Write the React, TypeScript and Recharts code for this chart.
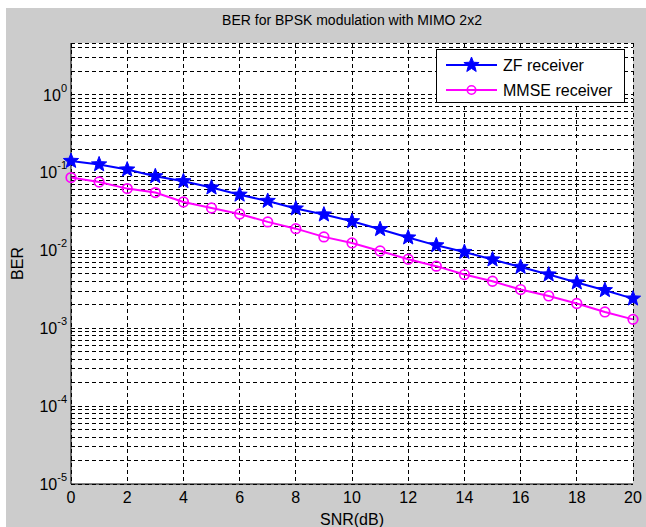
import React from 'react';
import { LineChart, Line, XAxis, YAxis, CartesianGrid } from 'recharts';

const TITLE = 'BER for BPSK modulation with MIMO 2x2';
const X_LABEL = 'SNR(dB)';
const Y_LABEL = 'BER';
const SERIES_NAMES = ['ZF receiver', 'MMSE receiver'];

const SNR = [0, 1, 2, 3, 4, 5, 6, 7, 8, 9, 10, 11, 12, 13, 14, 15, 16, 17, 18, 19, 20];
const ZF = [0.1405, 0.127, 0.109, 0.0893, 0.0771, 0.064, 0.0518, 0.0431, 0.0344, 0.0288, 0.0236, 0.0187, 0.0146, 0.0116, 0.00953, 0.00762, 0.00612, 0.00489, 0.00386, 0.00308, 0.0024];
const MMSE = [0.086, 0.0755, 0.0621, 0.0552, 0.0418, 0.035, 0.0293, 0.0232, 0.019, 0.0149, 0.01245, 0.00982, 0.00769, 0.00627, 0.00489, 0.00401, 0.00314, 0.0026, 0.00208, 0.00162, 0.0013];

const X_TICKS = [0, 2, 4, 6, 8, 10, 12, 14, 16, 18, 20];
const Y_EXPONENTS = [-5, -4, -3, -2, -1, 0];
const Y_MINOR_MULTS = [1, 2, 3, 4, 5, 6, 7, 8, 9];
const Y_DOMAIN: [number, number] = [1e-5, 4.6];

const Y_TICKS: number[] = [];
Y_EXPONENTS.forEach((e) => {
  Y_MINOR_MULTS.forEach((m) => {
    const v = m * Math.pow(10, e);
    if (v <= Y_DOMAIN[1]) Y_TICKS.push(v);
  });
});

const data = SNR.map((s, i) => ({ snr: s, zf: ZF[i], mmse: MMSE[i] }));

const FONT = 'Arial, "Liberation Sans", Helvetica, sans-serif';
const BLUE = '#0000ff';
const MAGENTA = '#ff00ff';
const FS = 16;

function starPoints(cx: number, cy: number, R: number, r: number) {
  const pts: string[] = [];
  for (let i = 0; i < 10; i++) {
    const ang = -Math.PI / 2 + (i * Math.PI) / 5;
    const rad = i % 2 === 0 ? R : r;
    pts.push(`${cx + rad * Math.cos(ang)},${cy + rad * Math.sin(ang)}`);
  }
  return pts.join(' ');
}

const StarDot = (props: any) => {
  const { cx, cy, index } = props;
  if (cx == null || cy == null) return <g key={index} />;
  return <polygon key={index} points={starPoints(cx, cy, 8, 3.4)} fill={BLUE} stroke={BLUE} strokeWidth={1} />;
};

const CircleDot = (props: any) => {
  const { cx, cy, index } = props;
  if (cx == null || cy == null) return <g key={index} />;
  return <circle key={index} cx={cx} cy={cy} r={4.8} fill="none" stroke={MAGENTA} strokeWidth={1.7} />;
};

const YTick = (props: any) => {
  const { x, y, payload } = props;
  const v = payload.value;
  const e = Math.log10(v);
  if (Math.abs(e - Math.round(e)) > 1e-6) return <g />;
  return (
    <text x={x} y={y} textAnchor="end" fill="#000" fontSize={FS} fontFamily={FONT}>
      <tspan dy={6}>10</tspan>
      <tspan dy={-9} fontSize={11}>{Math.round(e)}</tspan>
    </text>
  );
};

const YLabel = (props: any) => {
  const vb = props.viewBox || {};
  const cy = (vb.y || 0) + (vb.height || 0) / 2;
  return (
    <text x={11} y={cy} transform={`rotate(-90 11 ${cy})`} textAnchor="middle" dominantBaseline="central" fill="#000" fontSize={FS} fontFamily={FONT}>
      {Y_LABEL}
    </text>
  );
};

const XLabel = (props: any) => {
  const vb = props.viewBox || {};
  const cx = (vb.x || 0) + (vb.width || 0) / 2;
  return (
    <text x={cx} y={511} textAnchor="middle" dominantBaseline="central" fill="#000" fontSize={FS} fontFamily={FONT}>
      {X_LABEL}
    </text>
  );
};

const LegendBox = () => (
  <svg width={190} height={55} style={{ display: 'block' }}>
    <rect x={0.5} y={0.5} width={188} height={53} fill="#fff" stroke="#000" strokeWidth={1} />
    <line x1={10} x2={61} y1={16} y2={16} stroke={BLUE} strokeWidth={2} />
    <polygon points={starPoints(35.5, 16, 8, 3.4)} fill={BLUE} stroke={BLUE} />
    <text x={67} y={16} dominantBaseline="central" fontSize={FS} fontFamily={FONT} fill="#000">{SERIES_NAMES[0]}</text>
    <line x1={10} x2={61} y1={41} y2={41} stroke={MAGENTA} strokeWidth={2} />
    <circle cx={35.5} cy={41} r={4.2} fill="none" stroke={MAGENTA} strokeWidth={1.6} />
    <text x={67} y={41} dominantBaseline="central" fontSize={FS} fontFamily={FONT} fill="#000">{SERIES_NAMES[1]}</text>
  </svg>
);

export default function App() {
  return (
    <div style={{ position: 'absolute', left: 6, top: 8, width: 640, height: 519, background: '#cccccc', fontFamily: FONT }}>
      <div style={{ position: 'absolute', left: 65, width: 562, top: 1, height: 22, lineHeight: '22px', textAlign: 'center', fontSize: 14, color: '#000', whiteSpace: 'nowrap' }}>
        {TITLE}
      </div>
      <LineChart width={640} height={519} data={data} margin={{ top: 35, right: 13, bottom: 0, left: 5 }}>
        <CartesianGrid fill="#ffffff" stroke="#000" strokeDasharray="4 3" strokeWidth={1} fillOpacity={1} shapeRendering="crispEdges" />
        <XAxis
          dataKey="snr"
          type="number"
          domain={[0, 20]}
          ticks={X_TICKS}
          height={43}
          axisLine={{ stroke: '#000', strokeWidth: 1 }}
          tickLine={false}
          tickSize={6}
          tickMargin={2}
          tick={{ fill: '#000', fontSize: FS, fontFamily: FONT }}
          label={XLabel}
        />
        <XAxis
          xAxisId="top"
          orientation="top"
          type="number"
          domain={[0, 20]}
          height={0}
          tick={false}
          tickLine={false}
          axisLine={{ stroke: '#000', strokeWidth: 1 }}
        />
        <YAxis
          type="number"
          scale="log"
          domain={Y_DOMAIN}
          allowDataOverflow
          ticks={Y_TICKS}
          interval={0}
          width={60}
          axisLine={{ stroke: '#000', strokeWidth: 1 }}
          tickLine={false}
          tickSize={4}
          tickMargin={0}
          tick={YTick}
          label={YLabel}
        />
        <YAxis
          yAxisId="right"
          orientation="right"
          type="number"
          domain={[0, 1]}
          width={0}
          tick={false}
          tickLine={false}
          axisLine={{ stroke: '#000', strokeWidth: 1 }}
        />
        <Line type="linear" dataKey="zf" stroke={BLUE} strokeWidth={2} dot={StarDot} isAnimationActive={false} />
        <Line type="linear" dataKey="mmse" stroke={MAGENTA} strokeWidth={2} dot={CircleDot} isAnimationActive={false} />
      </LineChart>
      <div style={{ position: 'absolute', left: 430, top: 41 }}>
        <LegendBox />
      </div>
    </div>
  );
}
